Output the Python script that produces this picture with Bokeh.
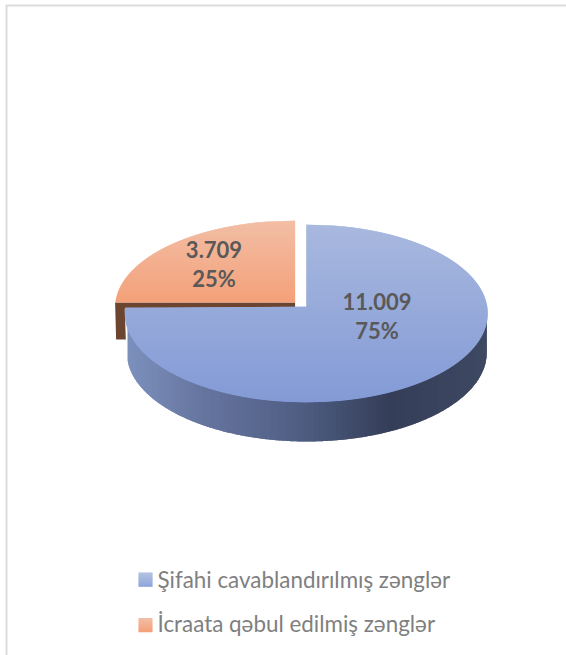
import numpy as np
from bokeh.plotting import figure
from bokeh.embed import file_html
from bokeh.resources import INLINE
from bokeh.core.properties import value

# ---- data
categories = ["Şifahi cavablandırılmış zənglər", "İcraata qəbul edilmiş zənglər"]
series_values = [11009, 3709]
value_labels = ["11.009", "3.709"]
percent_labels = ["75%", "25%"]

# ---- style / geometry of the drawing
W, H = 566, 655
FONT = "Lato"
BLUE_TOP = ("#a8b8de", "#839ad6")
ORANGE_TOP = ("#f2bea5", "#f4a079")
SIDE_STOPS = [(127, "#7d90bd"), (200, "#66769f"), (300, "#4f5e83"), (390, "#353e58"), (487, "#3e4962")]
BROWN = "#6b4530"


def hex2rgb(c):
    return np.array([int(c[i:i + 2], 16) for i in (1, 3, 5)], float)


def mix(a, b, t):
    v = hex2rgb(a) * (1 - t) + hex2rgb(b) * t
    return "#%02x%02x%02x" % tuple(int(round(x)) for x in v)


def side_color(x):
    xs = [s[0] for s in SIDE_STOPS]
    rgb = [np.interp(x, xs, [hex2rgb(s[1])[k] for s in SIDE_STOPS]) for k in range(3)]
    return "#%02x%02x%02x" % tuple(int(round(v)) for v in rgb)


p = figure(width=W, height=H, x_range=(0, W), y_range=(H, 0), output_backend="svg",
           toolbar_location=None, min_border=0, outline_line_color=None,
           background_fill_color="white", border_fill_color="white")
p.axis.visible = False
p.grid.visible = False
p.styles = {"position": "absolute", "left": "0px", "top": "0px"}

# chart frame (only top and left show in the reference crop)
p.line([6, 6], [5, H], line_color="#dcdcdc", line_width=2)
p.line([5, W], [5, 5], line_color="#dcdcdc", line_width=2)

# ---- slice angles from the values
total = sum(series_values)
sweep_blue = 2 * np.pi * series_values[0] / total
start = np.pi / 2
end_blue = start - sweep_blue

cx, cy, rx, ry = 305.8, 313.0, 181.5, 89.0
apex_y = 306.5
depth = 39.0
ocx, ocy, orx, ory = 294.6, 307.0, 180.0, 87.0
oapex_y = 302.0

# side of the big slice: vertical strips on whole pixels, painted left to right
xs_l, ys_l, cols = [], [], []
sx, srx = 306.3, 180.0
sy = cy + depth


def lower(x):
    return sy + ry * np.sqrt(max(0, 1 - ((x - sx) / srx) ** 2))


grid = np.arange(np.ceil(sx - srx), np.floor(sx + srx) + 1)
for a in grid:
    # each strip runs on under the next one, so no seam can show between them
    b = min(a + 2, sx + srx)
    mid = a + 1 if a + 1 < b else b
    xs_l.append([a, mid, b, b, mid, a])
    ys_l.append([cy, cy, cy, lower(b), lower(mid), lower(a)])
    cols.append(side_color(a + 0.5))
p.patches(xs_l, ys_l, fill_color=cols, line_color=None)

# side wall of the exploded slice (cut face seen below the orange top)
d2 = 37.0
p.patch([ocx - orx, ocx, ocx, cx - rx, cx - rx + 1, ocx - orx + 1],
        [oapex_y, oapex_y, apex_y, apex_y + 1.5, oapex_y + d2, oapex_y + d2],
        fill_color=BROWN, line_color=None)


def half_width(y, c, r):
    return r * np.sqrt(np.clip(1 - ((y - c) / r) ** 2, 0, 1))


# top of the big slice: horizontal bands
xs_t, ys_t, cols = [], [], []
bands = np.arange(cy - ry, cy + ry, 1.0)
end_y = cy - ry * np.sin(end_blue)
for y0 in bands:
    y1 = min(y0 + 1.5, cy + ry)
    wa = half_width(y0, cy, ry) * rx / ry
    wb = half_width(y1, cy, ry) * rx / ry
    if y1 <= apex_y:
        la, lb = cx, cx
    else:
        la = cx - wa if y0 >= apex_y else cx
        lb = cx - wb
    ra, rb = cx + wa, cx + wb
    t = (y0 - (cy - ry)) / (2 * ry)
    xs_t.append([la, ra, rb, lb])
    ys_t.append([y0, y0, y1, y1])
    cols.append(mix(BLUE_TOP[0], BLUE_TOP[1], t))
p.patches(xs_t, ys_t, fill_color=cols, line_color=None)

# top of the exploded slice: horizontal bands
xs_o, ys_o, cols = [], [], []
for y0 in np.arange(ocy - ory, oapex_y, 1.0):
    y1 = min(y0 + 1.5, oapex_y)
    wa = half_width(y0, ocy, ory) * orx / ory
    wb = half_width(y1, ocy, ory) * orx / ory
    t = (y0 - (ocy - ory)) / (oapex_y - (ocy - ory))
    xs_o.append([ocx - wa, ocx, ocx, ocx - wb])
    ys_o.append([y0, y0, y1, y1])
    cols.append(mix(ORANGE_TOP[0], ORANGE_TOP[1], t))
p.patches(xs_o, ys_o, fill_color=cols, line_color=None)

# data labels
lab_x = [376.5, 213.5]
p.text(lab_x, [300.5, 249], text=value_labels, text_font=value(FONT), text_font_style="bold",
       text_font_size="22px", text_color="#595959", text_align="center", text_baseline="middle")
p.text(lab_x, [330, 278], text=percent_labels, text_font=value(FONT), text_font_style="bold",
       text_font_size="22px", text_color="#595959", text_align="center", text_baseline="middle")

# legend
swatch_y = [579, 624.5]
text_y = [578.5, 623]
swatches = [BLUE_TOP, ORANGE_TOP]
for yy, sw in zip(swatch_y, swatches):
    n = 14
    for i in range(n):
        p.quad(left=[138], right=[152], top=[yy - 7 + i], bottom=[yy - 7 + i + 1.3],
               fill_color=mix(sw[0], sw[1], i / (n - 1)), line_color=None)
p.text([157, 157], text_y, text=categories, text_font=value(FONT), text_font_size="22.4px",
       text_color="#7f7f7f", text_align="left", text_baseline="middle")

open("out.html", "w").write(file_html(p, INLINE))
